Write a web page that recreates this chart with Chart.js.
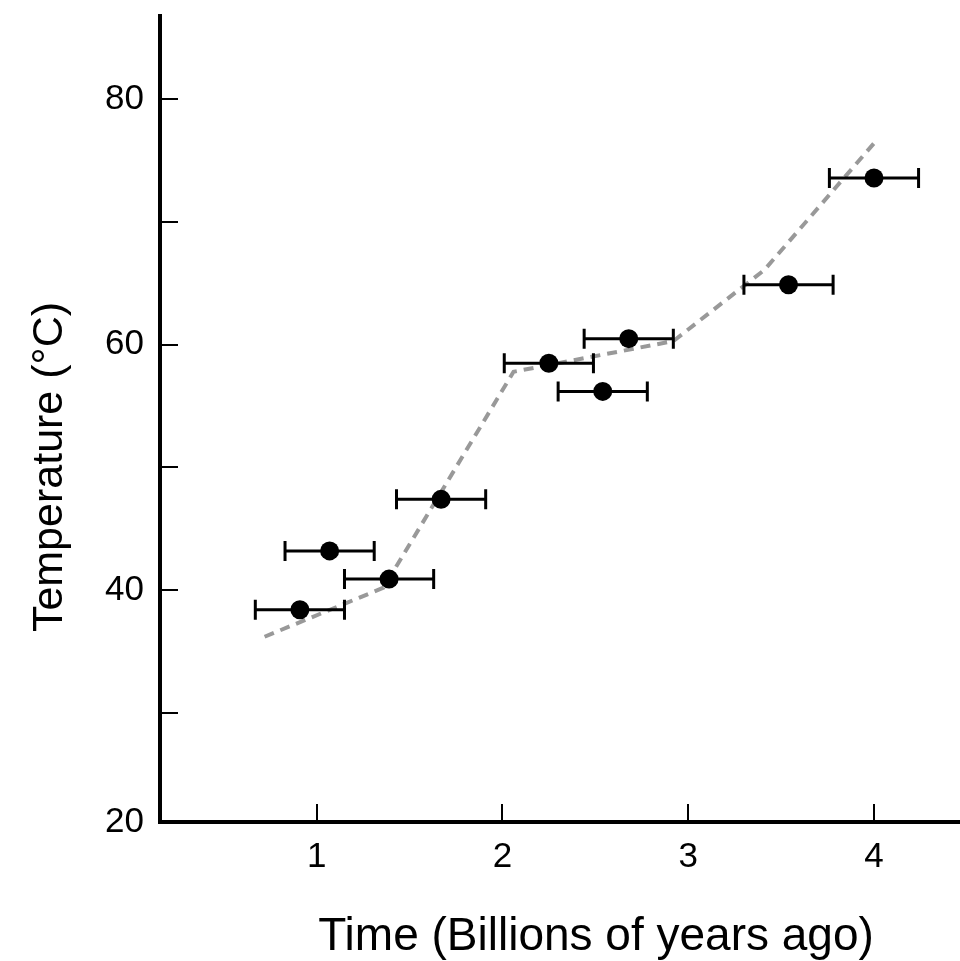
<!DOCTYPE html>
<html>
<head>
<meta charset="utf-8">
<script src="https://cdn.jsdelivr.net/npm/chart.js@4"></script>
<style>
  html, body { margin: 0; padding: 0; background: #fff; }
  #wrap { width: 960px; height: 961px; }
</style>
</head>
<body>
<div id="wrap"><canvas id="c" width="960" height="961"></canvas></div>
<script>
// ---- data ----
const timeValues = [0.91, 1.07, 1.39, 1.67, 2.25, 2.68, 2.54, 3.54, 4.00];
const tempValues = [38.4, 43.2, 40.9, 47.4, 58.5, 60.5, 56.2, 64.9, 73.6];
const timeErrors = [0.24, 0.24, 0.24, 0.24, 0.24, 0.24, 0.24, 0.24, 0.24];
const trendTime = [0.72, 1.36, 2.06, 2.92, 3.41, 4.01];
const trendTemp = [36.2, 40.2, 57.8, 60.3, 66.1, 76.6];
const xTickValues = [1, 2, 3, 4];
const yTickValues = [30, 40, 50, 60, 70, 80];
const yLabelledTicks = [40, 60, 80];
const yBottomLabel = '20';
const xTitle = 'Time (Billions of years ago)';
const yTitle = 'Temperature (°C)';
const xRange = [0.157, 4.463];
const yRange = [21.1, 86.8];

const FONT = '"Liberation Sans", Arial, Helvetica, sans-serif';

const pointData = timeValues.map((x, i) => ({ x: x, y: tempValues[i], xerr: timeErrors[i] }));
const trendData = trendTime.map((x, i) => ({ x: x, y: trendTemp[i] }));

const decorPlugin = {
  id: 'decor',
  beforeDatasetDraw(chart, args) {
    if (args.index !== 0) return;
    const ctx = chart.ctx;
    const xs = chart.scales.x, ys = chart.scales.y;
    ctx.save();
    ctx.strokeStyle = '#000';
    ctx.lineWidth = 3;
    const cap = 10;
    pointData.forEach(p => {
      const x1 = xs.getPixelForValue(p.x - p.xerr);
      const x2 = xs.getPixelForValue(p.x + p.xerr);
      const y = ys.getPixelForValue(p.y);
      ctx.beginPath();
      ctx.moveTo(x1, y); ctx.lineTo(x2, y);
      ctx.moveTo(x1, y - cap); ctx.lineTo(x1, y + cap);
      ctx.moveTo(x2, y - cap); ctx.lineTo(x2, y + cap);
      ctx.stroke();
    });
    ctx.restore();
  },
  afterDraw(chart) {
    const ctx = chart.ctx;
    const xs = chart.scales.x, ys = chart.scales.y;
    const area = chart.chartArea;
    ctx.save();
    // inward tick marks
    ctx.strokeStyle = '#000';
    ctx.lineWidth = 2;
    const tl = 18;
    ctx.beginPath();
    yTickValues.forEach(v => {
      const y = Math.round(ys.getPixelForValue(v));
      ctx.moveTo(area.left, y); ctx.lineTo(area.left + tl, y);
    });
    xTickValues.forEach(v => {
      const x = Math.round(xs.getPixelForValue(v));
      ctx.moveTo(x, area.bottom); ctx.lineTo(x, area.bottom - tl);
    });
    ctx.stroke();
    // axis titles
    ctx.fillStyle = '#000';
    ctx.font = '46px ' + FONT;
    ctx.textAlign = 'center';
    ctx.textBaseline = 'alphabetic';
    ctx.fillText(xTitle, 596, 950);
    ctx.save();
    ctx.translate(62, 467);
    ctx.rotate(-Math.PI / 2);
    ctx.font = '43px ' + FONT;
    ctx.fillText(yTitle, 0, 0);
    ctx.restore();
    ctx.restore();
  }
};

new Chart(document.getElementById('c'), {
  type: 'scatter',
  data: {
    datasets: [
      {
        label: 'Measurements',
        data: pointData,
        backgroundColor: '#000',
        borderColor: '#000',
        pointRadius: 9.5,
        pointHoverRadius: 9.5,
        pointBorderWidth: 0,
        order: 0
      },
      {
        type: 'line',
        label: 'Trend',
        data: trendData,
        borderColor: '#999999',
        borderWidth: 4,
        borderDash: [10, 7],
        pointRadius: 0,
        fill: false,
        tension: 0,
        order: 2
      }
    ]
  },
  options: {
    responsive: false,
    animation: false,
    events: [],
    layout: { autoPadding: false, padding: { top: 16, right: 0, left: 0, bottom: 0 } },
    plugins: { legend: { display: false }, tooltip: { enabled: false } },
    scales: {
      x: {
        type: 'linear',
        min: xRange[0],
        max: xRange[1],
        afterBuildTicks: s => { s.ticks = xTickValues.map(v => ({ value: v })); },
        afterFit: s => { s.height = 139; s.paddingLeft = 0; s.paddingRight = 0; },
        grid: { display: false, drawTicks: false },
        border: { display: true, color: '#000', width: 4 },
        ticks: {
          color: '#000',
          padding: 14,
          font: { family: FONT, size: 35 },
          maxRotation: 0,
          callback: v => String(v)
        },
        title: { display: false }
      },
      y: {
        type: 'linear',
        min: yRange[0],
        max: yRange[1],
        afterBuildTicks: s => { s.ticks = [yRange[0]].concat(yLabelledTicks).map(v => ({ value: v })); },
        afterFit: s => { s.width = 160; s.paddingTop = 0; s.paddingBottom = 0; },
        grid: { display: false, drawTicks: false },
        border: { display: true, color: '#000', width: 4 },
        ticks: {
          color: '#000',
          padding: 16,
          font: { family: FONT, size: 35 },
          callback: v => (v === yRange[0] ? yBottomLabel : String(v))
        },
        title: { display: false }
      }
    }
  },
  plugins: [decorPlugin]
});
</script>
</body>
</html>
